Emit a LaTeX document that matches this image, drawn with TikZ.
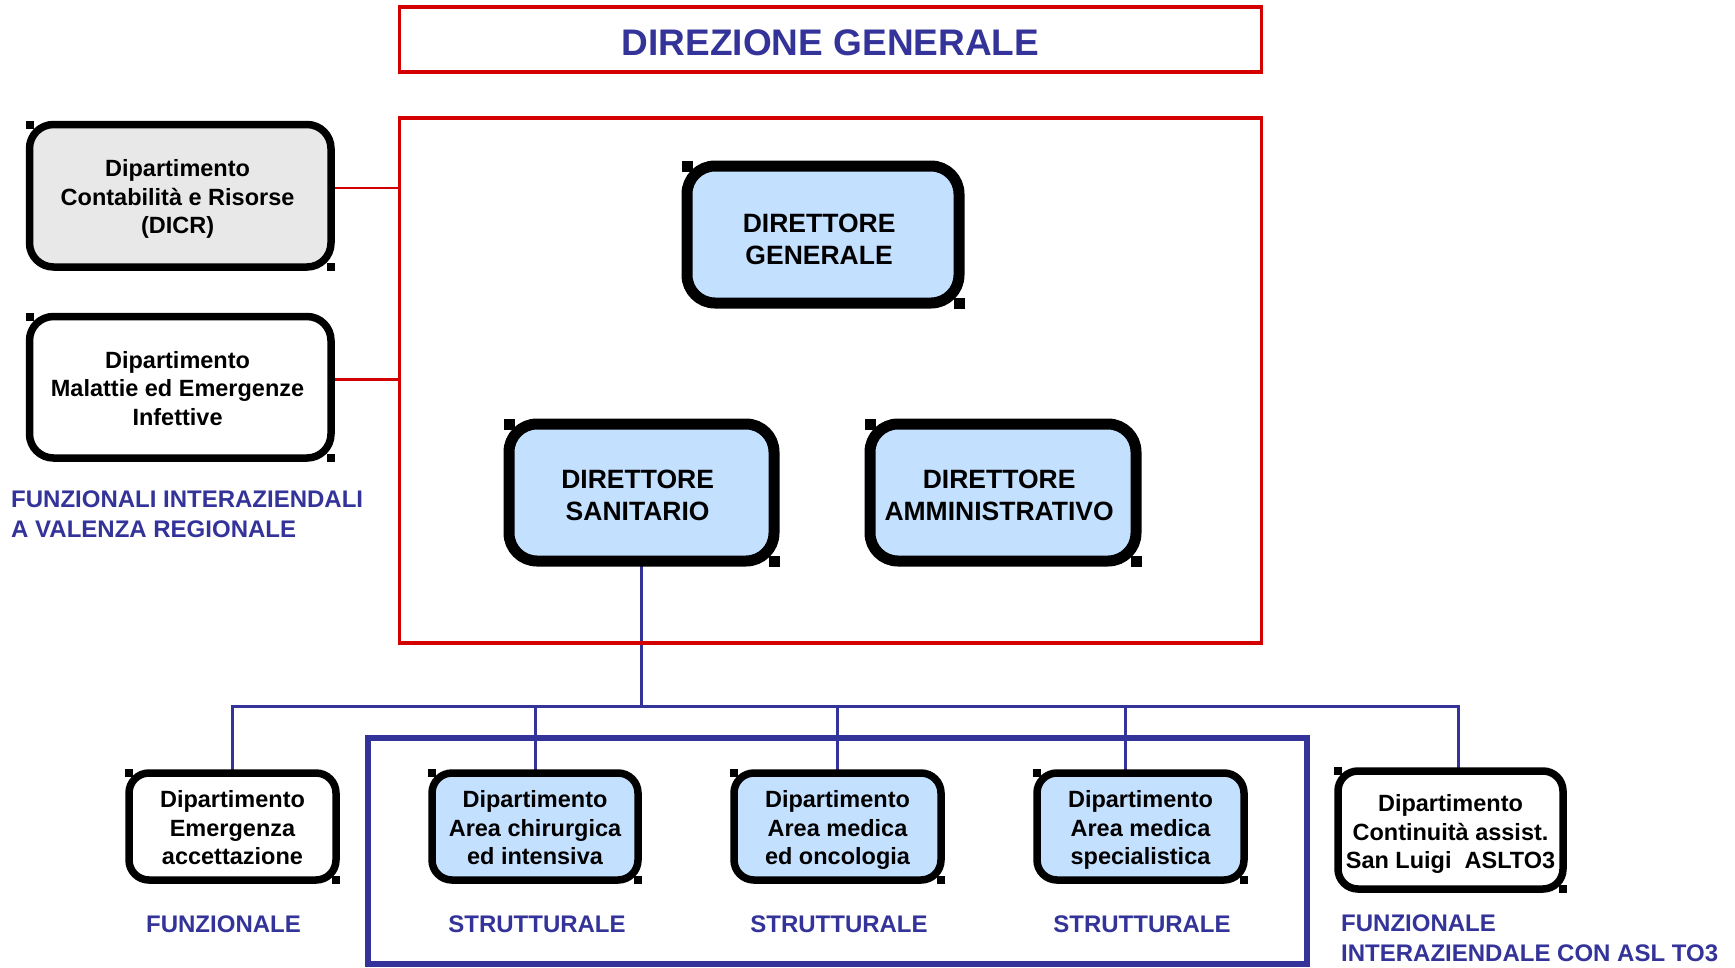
\documentclass[tikz,border=0pt]{standalone}
\usepackage{fontspec}
\setmainfont{Liberation Sans}
\usetikzlibrary{calc,backgrounds}
\definecolor{dblue}{RGB}{51,51,153}
\definecolor{dred}{RGB}{212,0,0}
\definecolor{lblue}{RGB}{196,224,255}
\definecolor{lgray}{RGB}{232,232,232}
\tikzset{
 dept/.style={draw=black, line width=7.5pt, rounded corners=24pt, inner sep=0pt, outer sep=0pt,
   font=\bfseries\fontsize{23.5}{28.5}\selectfont, fill=white},
 smalldept/.style={dept, rounded corners=20pt},
 dirbox/.style={dept, line width=11pt, rounded corners=28pt, fill=lblue,
   font=\bfseries\fontsize{26.5}{32}\selectfont},
 lab/.style={text=dblue, font=\bfseries\fontsize{24}{30}\selectfont, inner sep=0pt, align=left},
 redframe/.style={draw=dred, line width=3.5pt, inner sep=0pt, outer sep=0pt},
 redline/.style={draw=dred, line width=2.5pt},
 blueline/.style={draw=dblue, line width=3pt},
}
% [extra width at right] {extra height at top} {lines}
\newcommand\btext[3][0pt]{\raisebox{0pt}[\dimexpr\height+#2\relax][\depth]{\begin{tabular}{@{}c@{}}#3\end{tabular}\hspace{#1}}}
\newcommand\cmarks[2]{%
  \fill[black] ($(#1.north west)+(-#2,-#2)$) rectangle ($(#1.north west)+(#2,#2)$);
  \fill[black] ($(#1.south east)+(-#2,-#2)$) rectangle ($(#1.south east)+(#2,#2)$);}
\begin{document}
\begin{tikzpicture}[x=1pt,y=-1pt]
\useasboundingbox (0,0) rectangle (1735,967);
% title
\node[redframe, minimum width=862pt, minimum height=65pt, text=dblue,
  font=\bfseries\fontsize{37}{40}\selectfont] (title) at (830.5,39.5) {\btext{15.4pt}{DIREZIONE GENERALE}};
% big red frame
\node[redframe, minimum width=862pt, minimum height=525pt] (dirframe) at (830.5,380.5) {};
% blue structural frame
\node[draw=dblue, line width=5.5pt, inner sep=0pt, outer sep=0pt, minimum width=939pt, minimum height=226pt] (strframe) at (837.5,851) {};
% left departments
\node[dept, fill=lgray, minimum width=301.5pt, minimum height=142.5pt] (dicr) at (180.25,195.75)
  {\btext[5.4pt]{8pt}{Dipartimento\\Contabilità e Risorse\\(DICR)}};
\node[dept, minimum width=301.5pt, minimum height=141.5pt] (dmei) at (180.25,387.25)
  {\btext[5.4pt]{8pt}{Dipartimento\\Malattie ed Emergenze\\Infettive}};
\node[lab, anchor=west] (labreg) at (11,514) {FUNZIONALI INTERAZIENDALI\\A VALENZA REGIONALE};
% directors
\node[dirbox, minimum width=272pt, minimum height=137pt] (dg) at (823,234.5) {\btext[7.8pt]{15.3pt}{DIRETTORE\\GENERALE}};
\node[dirbox, minimum width=265pt, minimum height=137pt] (ds) at (641.5,492.5) {\btext[7.8pt]{10.9pt}{DIRETTORE\\SANITARIO}};
\node[dirbox, minimum width=266pt, minimum height=137pt] (da) at (1003,492.5) {\btext[7.8pt]{10.9pt}{DIRETTORE\\AMMINISTRATIVO}};
% bottom departments
\node[smalldept, minimum width=207pt, minimum height=107pt] (emg) at (232.5,826.5)
  {\btext{8pt}{Dipartimento\\Emergenza\\accettazione}};
\node[smalldept, fill=lblue, minimum width=206pt, minimum height=107pt] (chir) at (535,826.5)
  {\btext{8pt}{Dipartimento\\Area chirurgica\\ed intensiva}};
\node[smalldept, fill=lblue, minimum width=207pt, minimum height=107pt] (onco) at (837.5,826.5)
  {\btext{8pt}{Dipartimento\\Area medica\\ed oncologia}};
\node[smalldept, fill=lblue, minimum width=207pt, minimum height=107pt] (spec) at (1140.5,826.5)
  {\btext{8pt}{Dipartimento\\Area medica\\specialistica}};
\node[smalldept, minimum width=225pt, minimum height=118pt] (cont) at (1450.5,830)
  {\btext{9pt}{Dipartimento\\Continuità assist.\\San Luigi\ \ ASLTO3}};
% labels
\node[lab] (l1) at (223.5,924) {FUNZIONALE};
\node[lab] (l2) at (537,924) {STRUTTURALE};
\node[lab] (l3) at (839,924) {STRUTTURALE};
\node[lab] (l4) at (1142,924) {STRUTTURALE};
\node[lab, anchor=west] (l5) at (1341,938) {FUNZIONALE\\INTERAZIENDALE CON ASL TO3};
% corner marks
\cmarks{dicr}{4pt}
\cmarks{dmei}{4pt}
\cmarks{dg}{5.5pt}
\cmarks{ds}{5.5pt}
\cmarks{da}{5.5pt}
\cmarks{emg}{4pt}
\cmarks{chir}{4pt}
\cmarks{onco}{4pt}
\cmarks{spec}{4pt}
\cmarks{cont}{4pt}
% connectors
\begin{scope}[on background layer]
\draw[redline] ([yshift=8pt]dicr.east) -- ([yshift=8pt]dicr.east -| dirframe.west);
\draw[redline] ([yshift=8pt]dmei.east) -- ([yshift=8pt]dmei.east -| dirframe.west);
\coordinate (bus) at (0,706);
\coordinate (specd) at ([xshift=-15.5pt]spec.north);
\coordinate (contd) at ([xshift=7.5pt]cont.north);
\draw[blueline] (ds.south) -- (ds.south |- bus);
\draw[blueline] (emg.north) -- (emg.north |- bus) -- (contd |- bus) -- (contd);
\draw[blueline] (chir.north) -- (chir.north |- bus);
\draw[blueline] (onco.north) -- (onco.north |- bus);
\draw[blueline] (specd) -- (specd |- bus);
\end{scope}
\end{tikzpicture}
\end{document}
